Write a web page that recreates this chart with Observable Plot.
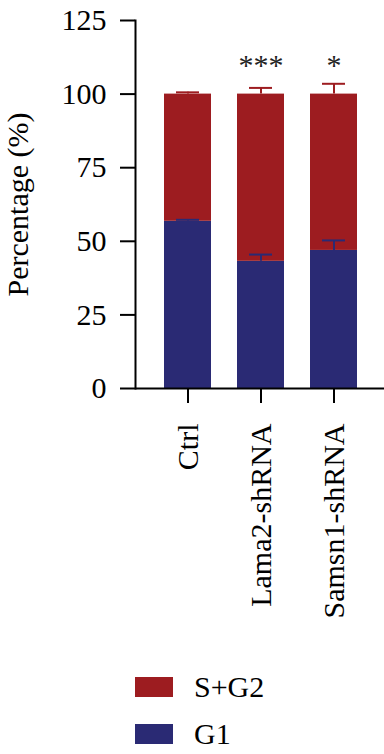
<!DOCTYPE html>
<html>
<head>
<meta charset="utf-8">
<script src="https://cdn.jsdelivr.net/npm/d3@7"></script>
<script src="https://cdn.jsdelivr.net/npm/@observablehq/plot@0.6"></script>
<style>
  html, body { margin: 0; padding: 0; background: #fff; }
  #wrap { position: relative; width: 384px; height: 754px; font-family: "Liberation Serif", "Times New Roman", serif; }
  #legend { position: absolute; left: 135px; top: 672px; font-size: 30px; color: #000; }
  .item { display: flex; align-items: center; height: 30px; margin-bottom: 17px; }
  .sw { width: 38px; height: 20px; margin-right: 21px; }
</style>
</head>
<body>
<div id="wrap"><div id="legend"></div></div>
<script>
const groups = ["Ctrl", "Lama2-shRNA", "Samsn1-shRNA"];
const phases = ["G1", "S+G2"];
const g1 = [56.8, 43.2, 46.9];
const g1Err = [0.5, 2.3, 3.4];
const sg2 = [43.2, 56.8, 53.1];
const sg2Err = [0.6, 2.1, 3.5];
const stars = ["", "***", "*"];
const yTicks = [0, 25, 50, 75, 100, 125];
const yLabel = "Percentage (%)";
const colors = ["#2a2a74", "#9d1c20"];
const legendOrder = ["S+G2", "G1"];

const rows = [];
const errRows = [];
groups.forEach((g, i) => {
  rows.push({group: g, phase: "G1", y1: 0, y2: g1[i]});
  rows.push({group: g, phase: "S+G2", y1: g1[i], y2: g1[i] + sg2[i]});
  errRows.push({group: g, phase: "G1", top: g1[i], topErr: g1[i] + g1Err[i]});
  errRows.push({group: g, phase: "S+G2", top: g1[i] + sg2[i], topErr: g1[i] + sg2[i] + sg2Err[i]});
});
const starRows = groups.map((g, i) => ({group: g, star: stars[i]})).filter(d => d.star);

const font = "'Liberation Serif', 'Times New Roman', serif";
const chart = Plot.plot({
  width: 384,
  height: 754,
  marginLeft: 135,
  marginRight: 0,
  marginTop: 20,
  marginBottom: 366,
  style: {fontFamily: font, fontSize: "30px", background: "white", color: "black"},
  x: {domain: groups, range: [138, 384], padding: 0.35, axis: null},
  y: {domain: [0, 125], axis: null},
  color: {domain: phases, range: colors},
  marks: [
    Plot.barY(rows, {x: "group", y1: "y1", y2: "y2", fill: "phase"}),
    Plot.ruleX(errRows, {x: "group", y1: "top", y2: "topErr", stroke: "phase", strokeWidth: 2}),
    Plot.tickY(errRows, {x: "group", y: "topErr", stroke: "phase", strokeWidth: 2, inset: 12}),
    Plot.text(starRows, {x: "group", y: () => 110, text: "star", fontSize: 30, fontFamily: font, fill: "#222", dy: 1}),
    Plot.axisY({ticks: yTicks, tickSize: 15, tickPadding: 14, fontSize: 30, fontFamily: font, label: null, strokeWidth: 2}),
    Plot.axisX({tickSize: 15, tickFormat: () => "", label: null, strokeWidth: 2}),
    Plot.frame({anchor: "left", strokeWidth: 2}),
    Plot.ruleY([0], {strokeWidth: 2}),
    Plot.text(groups, {x: d => d, y: () => 0, text: d => d, rotate: -90, textAnchor: "end", dy: 35, fontSize: 30, fontFamily: font}),
    Plot.text([yLabel], {x: () => groups[0], y: () => 62.5, text: d => d, rotate: -90, textAnchor: "middle", dx: -169.5, fontSize: 30, fontFamily: font})
  ]
});
const wrap = document.getElementById("wrap");
wrap.insertBefore(chart, wrap.firstChild);

const legend = document.getElementById("legend");
legendOrder.forEach(p => {
  const item = document.createElement("div");
  item.className = "item";
  const sw = document.createElement("div");
  sw.className = "sw";
  sw.style.background = colors[phases.indexOf(p)];
  const t = document.createElement("span");
  t.textContent = p;
  item.appendChild(sw);
  item.appendChild(t);
  legend.appendChild(item);
});
</script>
</body>
</html>
